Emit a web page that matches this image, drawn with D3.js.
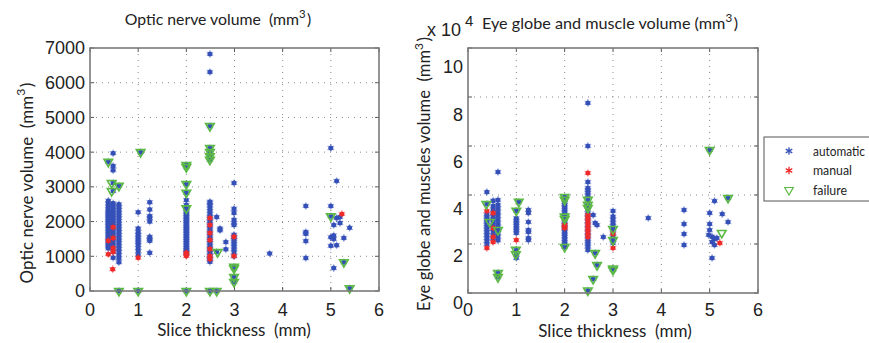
<!DOCTYPE html>
<html><head><meta charset="utf-8">
<script src="https://cdn.jsdelivr.net/npm/d3@7"></script>
<style>body{margin:0;background:#fff} svg{display:block} text{white-space:pre}</style>
</head><body><svg id="c" width="869" height="343"></svg>
<script>
// ---------- data ----------
const xTicks = [0,1,2,3,4,5,6];
const opticTicks = [0,1000,2000,3000,4000,5000,6000,7000];
const eyeTicks = [0,2,4,6,8,10];
const legendLabels = ["automatic","manual","failure"];

// optic nerve volume (mm^3): columns [slice thickness, values]
const opticAutomatic = [
 [0.38,[1230,1290,1350,1400,1460,1520,1580,1640,1700,1750,1800,1860,1910,1960,2010,2060,2110,2160,2210,2260,2310,2360,2440,2520,2600,3720]],
 [0.48,[960,1130,1240,1330,1420,1500,1580,1660,1740,1820,1900,1960,2020,2080,2140,2200,2260,2320,2390,2460,2530,2880,3110,3480,3600,3970]],
 [0.6,[0,830,940,1040,1130,1220,1300,1380,1460,1540,1620,1700,1780,1860,1940,2020,2100,2180,2260,2340,2420,2500,3030]],
 [1.0,[0,1040,1150,1240,1330,1400,1470,1540,1620,1700,1800,2270]],
 [1.05,[4000]],
 [1.24,[1100,1450,1500,1560,2000,2100,2160,2350,2560]],
 [2.0,[0,1080,1130,1180,1230,1280,1330,1380,1430,1480,1530,1580,1630,1680,1730,1780,1830,1880,1930,1980,2030,2080,2130,2180,2230,2290,2350,2400,2480,2620,2830,3080,3570,3630]],
 [2.49,[0,840,900,960,1030,1100,1170,1240,1310,1380,1450,1520,1590,1660,1730,1800,1870,1940,2010,2080,2150,2220,2300,2380,2460,2530,2570,3780,3870,3960,4050,4120,4750,6310,6830]],
 [2.63,[0,1120,2130]],
 [2.7,[1750,1800]],
 [2.82,[1200,1410]],
 [2.99,[260,330,400,650,700,1000,1120,1200,1280,1350,1420,1480,1550,1620,1900,1960,2050,2250,2370,3110]],
 [3.73,[1080]],
 [4.48,[950,1440,1650,1700,2450]],
 [5.0,[1300,1550,2150,2450,4120]],
 [5.06,[660,1500,1600,1900]],
 [5.12,[1320,2100,3170]],
 [5.19,[1960,2130]],
 [5.27,[830,1530]],
 [5.39,[80,1820]]
];
const opticManual = [[0.38,1060],[0.38,1450],[0.47,630],[0.48,1120],[0.48,1240],[0.48,1530],[0.48,1840],[1.0,960],[2.0,1010],[2.0,1060],[2.0,1100],[2.49,920],[2.49,1010],[2.49,1210],[2.49,1470],[2.49,1670],[2.49,1900],[2.49,2100],[2.99,1010],[2.99,1560],[5.23,2220]];
const opticFailure = [[0.38,3720],[0.45,3110],[0.45,2880],[0.6,3030],[0.6,0],[1.0,0],[1.05,4000],[2.0,3630],[2.0,3570],[2.0,3080],[2.0,2830],[2.0,2380],[2.0,0],[2.49,4750],[2.49,4120],[2.49,4000],[2.49,3880],[2.49,3780],[2.49,0],[2.63,0],[2.65,1120],[2.99,700],[2.99,650],[2.99,400],[2.99,260],[5.0,2150],[5.27,830],[5.39,80]];

// eye globe and muscle volume (x 10^4 mm^3)
const eyeAutomatic = [
 [0.39,[2.0,2.12,2.24,2.36,2.48,2.6,2.7,2.8,2.9,3.0,3.1,3.2,3.63,4.12]],
 [0.52,[2.2,2.35,2.5,2.62,2.75,2.88,3.0,3.12,3.25,3.4,3.55,3.77]],
 [0.62,[0.65,0.82,2.15,2.3,2.45,2.57,2.7,2.85,3.0,3.15,3.3,3.45,3.6,3.8,4.94]],
 [1.0,[1.43,1.58,1.76,2.45,2.55,2.65,2.75,2.85,2.95,3.05,3.36]],
 [1.05,[3.72]],
 [1.25,[2.16,2.24,2.49,2.57,2.9,3.27,3.39]],
 [2.0,[1.88,2.0,2.1,2.2,2.3,2.4,2.5,2.6,2.7,2.8,2.9,3.0,3.1,3.2,3.3,3.4,3.5,3.6,3.7,3.8,3.92]],
 [2.48,[0.1,1.76,1.9,2.0,2.1,2.2,2.35,2.5,2.65,2.8,2.95,3.1,3.25,3.4,3.55,3.7,3.85,3.98,4.1,4.2,4.29,4.53,6.0,7.76]],
 [2.59,[0.57,3.18]],
 [2.63,[1.63,2.86]],
 [2.67,[1.14,2.78]],
 [2.8,[2.29]],
 [3.0,[0.94,1.0,2.04,2.16,2.3,2.45,2.61,2.75,2.86,3.0,3.12,3.35]],
 [3.73,[3.06]],
 [4.47,[1.96,2.41,2.82,3.39]],
 [4.98,[2.37]],
 [5.0,[2.57,2.82,3.27,5.84]],
 [5.05,[1.43,2.08,2.3]],
 [5.1,[1.96,2.2,3.76]],
 [5.15,[2.24]],
 [5.26,[3.22]],
 [5.38,[2.9,3.88]]
];
const eyeManual = [[0.39,1.84],[0.39,3.35],[0.52,3.27],[0.52,2.65],[0.52,2.29],[0.52,2.08],[1.0,2.16],[2.0,2.65],[2.0,2.72],[2.0,2.78],[2.48,4.9],[2.48,2.29],[2.48,2.45],[2.48,2.6],[2.48,2.75],[2.48,2.9],[2.48,3.05],[2.48,3.18],[3.0,1.84],[3.0,2.41],[5.21,2.04]];
const eyeFailure = [[0.38,3.63],[0.45,2.9],[0.62,2.57],[0.62,0.82],[0.62,0.65],[1.05,3.72],[1.0,3.36],[0.99,1.76],[0.99,1.58],[2.0,3.92],[2.0,3.8],[2.0,3.12],[2.0,3.02],[2.0,1.88],[2.48,3.8],[2.48,3.6],[2.48,3.47],[2.48,0.1],[2.63,1.63],[2.67,1.14],[2.59,0.57],[3.0,2.61],[3.0,2.16],[3.0,0.94],[3.0,1.0],[5.0,5.84],[5.38,3.88],[5.25,2.45]];

// ---------- drawing ----------
const BLUE = "#3450b8", RED = "#ee2a2a", GREEN = "#5cba44";
const svg = d3.select("#c");
const tickFont = "'Liberation Sans', Arial, sans-serif";
const textFont = "Lato, 'Open Sans', sans-serif";

const expand = cols => cols.flatMap(([x, ys]) => ys.map(y => [x, y]));

const star = d3.symbol().type(d3.symbolAsterisk).size(40);
const tri = d3.symbol().type(d3.symbolTriangle).size(32);

function drawAuto(g, pts, x, y, color) {
  const s = g.append("g");
  s.selectAll("path").data(pts).join("path")
    .attr("d", star).attr("transform", d => `translate(${x(d[0])},${y(d[1])})`)
    .attr("fill", "none").attr("stroke", color).attr("stroke-width", 1.2).attr("stroke-opacity", 0.45);
  s.selectAll("circle").data(pts).join("circle")
    .attr("cx", d => x(d[0])).attr("cy", d => y(d[1])).attr("r", 2.5).attr("fill", color);
}
function drawFail(g, pts, x, y) {
  g.append("g").selectAll("path").data(pts).join("path")
    .attr("d", tri).attr("transform", d => `translate(${x(d[0])},${y(d[1])}) rotate(180)`)
    .attr("fill", "none").attr("stroke", GREEN).attr("stroke-width", 1.6);
}

function panel(box, yDomain, yTicks, auto, manual, fail, yLabelScale) {
  const x = d3.scaleLinear().domain([0, 6]).range([box.x0, box.x1]);
  const y = d3.scaleLinear().domain(yDomain).range([box.y1, box.y0]);
  const g = svg.append("g");
  g.append("g").selectAll("line").data(xTicks.slice(1, -1)).join("line")
    .attr("x1", d => x(d)).attr("x2", d => x(d)).attr("y1", box.y0).attr("y2", box.y1)
    .attr("stroke", "#8a8a8a").attr("stroke-width", 1).attr("stroke-dasharray", "1,5");
  g.append("g").selectAll("line").data(yTicks.slice(1, -1)).join("line")
    .attr("y1", d => y(d)).attr("y2", d => y(d)).attr("x1", box.x0).attr("x2", box.x1)
    .attr("stroke", "#8a8a8a").attr("stroke-width", 1).attr("stroke-dasharray", "1,5");
  const tk = g.append("g").attr("stroke", "#555").attr("stroke-width", 1);
  xTicks.forEach(d => {
    tk.append("line").attr("x1", x(d)).attr("x2", x(d)).attr("y1", box.y1).attr("y2", box.y1 - 4);
    tk.append("line").attr("x1", x(d)).attr("x2", x(d)).attr("y1", box.y0).attr("y2", box.y0 + 4);
  });
  yTicks.forEach(d => {
    tk.append("line").attr("y1", y(d)).attr("y2", y(d)).attr("x1", box.x0).attr("x2", box.x0 + 4);
    tk.append("line").attr("y1", y(d)).attr("y2", y(d)).attr("x1", box.x1).attr("x2", box.x1 - 4);
  });
  drawAuto(g, expand(auto), x, y, BLUE);
  drawAuto(g, manual, x, y, RED);
  drawFail(g, fail, x, y);
  g.append("rect").attr("x", box.x0).attr("y", box.y0).attr("width", box.x1 - box.x0).attr("height", box.y1 - box.y0)
    .attr("fill", "none").attr("stroke", "#7a7a7a").attr("stroke-width", 1.6);
  g.append("g").selectAll("text").data(xTicks).join("text")
    .attr("x", d => x(d)).attr("y", 316).attr("text-anchor", "middle")
    .attr("font-family", tickFont).attr("font-size", 18).attr("fill", "#222").text(d => d);
  const yl = yLabelScale || y;
  g.append("g").selectAll("text").data(yTicks).join("text")
    .attr("x", box.x0 - 5).attr("y", d => yl(d)).attr("dy", "0.36em").attr("text-anchor", "end")
    .attr("font-family", tickFont).attr("font-size", 18).attr("fill", "#222").text(d => d);
  return { x, y };
}

const L = { x0: 90, x1: 379, y0: 48, y1: 291 };
const R = { x0: 468, x1: 758, y0: 48, y1: 293 };

panel(L, [0, 7000], opticTicks, opticAutomatic, opticManual, opticFailure);
const eyeLabelY = d3.scaleLinear().domain([0, 10]).range([303, 67]);
panel(R, [0, 10], eyeTicks, eyeAutomatic, eyeManual, eyeFailure, eyeLabelY);

function supText(sel, before, after, size) {
  sel.append("tspan").text(before);
  sel.append("tspan").attr("dy", -size * 0.45).attr("font-size", size * 0.72).text("3");
  sel.append("tspan").attr("dy", size * 0.45).attr("dx", 1.5).text(after);
}
const T = (x, y, size) => svg.append("text").attr("x", x).attr("y", y).attr("xml:space", "preserve")
  .attr("font-family", textFont).attr("font-size", size).attr("fill", "#222");

supText(T(218, 25, 15.8).attr("text-anchor", "middle"), "Optic nerve volume  (mm", ")", 15.8);
supText(T(482, 29, 16.2), "Eye globe and muscle volume (mm", ")", 16.2);
T(234, 336, 17).attr("text-anchor", "middle").text("Slice thickness  (mm)");
T(615, 337, 17).attr("text-anchor", "middle").text("Slice thickness  (mm)");
supText(T(0, 0, 17).attr("text-anchor", "middle").attr("transform", "translate(33,183) rotate(-90)"),
  "Optic nerve volume  (mm", ")", 17);
supText(T(0, 0, 16.6).attr("text-anchor", "middle").attr("transform", "translate(430,174) rotate(-90)"),
  "Eye globe and muscles volume  (mm", ")", 16.6);
const ex = svg.append("text").attr("x", 427).attr("y", 36).attr("font-family", tickFont).attr("font-size", 18).attr("fill", "#222");
ex.append("tspan").text("x 10");
ex.append("tspan").attr("dx", 4).attr("dy", -10).attr("font-size", 15).text("4");

// legend
const lg = svg.append("g");
lg.append("rect").attr("x", 764).attr("y", 137).attr("width", 120).attr("height", 64)
  .attr("fill", "#fff").attr("stroke", "#555").attr("stroke-width", 1);
const ly = d3.scalePoint().domain(legendLabels).range([151, 190]);
const lcol = { automatic: BLUE, manual: RED };
const lw = { automatic: 52, manual: 39, failure: 34 };
legendLabels.forEach(k => {
  if (k === "failure") {
    lg.append("path").attr("d", tri).attr("transform", `translate(789,${ly(k)}) rotate(180)`)
      .attr("fill", "none").attr("stroke", GREEN).attr("stroke-width", 1.2);
  } else {
    lg.append("path").attr("d", star).attr("transform", `translate(789,${ly(k)})`)
      .attr("fill", "none").attr("stroke", lcol[k]).attr("stroke-width", 1.3);
  }
  lg.append("text").attr("x", 813).attr("y", ly(k)).attr("dy", "0.35em")
    .attr("font-family", textFont).attr("font-size", 14).attr("fill", "#222")
    .attr("textLength", lw[k]).attr("lengthAdjust", "spacingAndGlyphs").text(k);
});
</script></body></html>
